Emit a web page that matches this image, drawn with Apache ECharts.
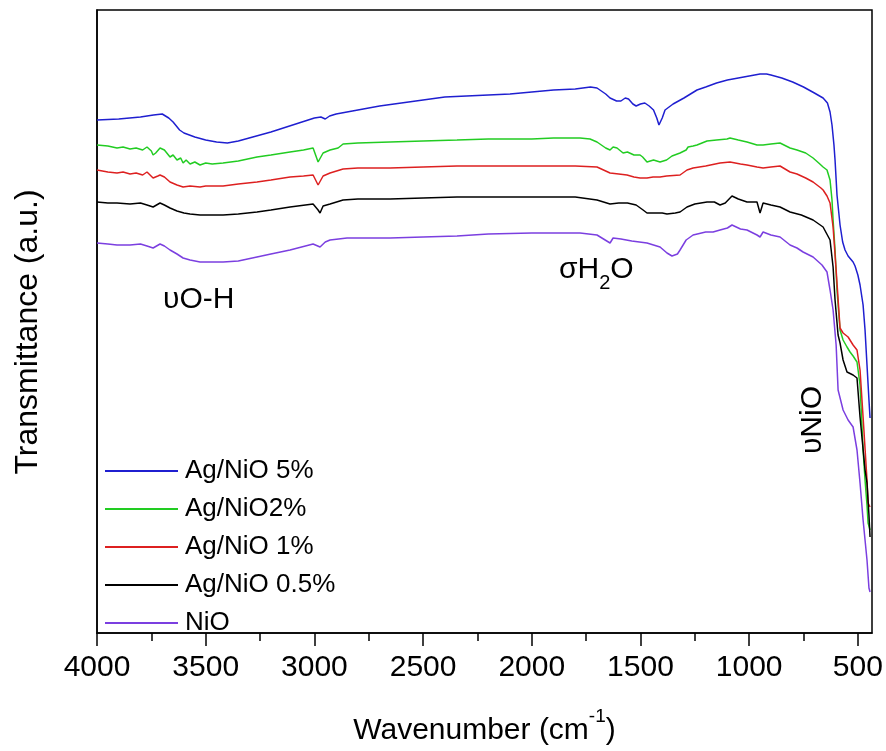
<!DOCTYPE html>
<html>
<head>
<meta charset="utf-8">
<title>FTIR spectra</title>
<script src="https://cdn.jsdelivr.net/npm/echarts@6/dist/echarts.min.js"></script>
<style>
  html, body { margin: 0; padding: 0; background: #fff; }
  #chart { width: 886px; height: 751px; }
</style>
</head>
<body>
<div id="chart"></div>
<script>
// wavenumber (cm-1) / transmittance (a.u.)
var ag5 = [
  [4000,513],[3900,514],[3800,516],[3740,518],[3700,519],[3670,515],[3650,511],[3620,503],[3600,500],
  [3550,496],[3500,493],[3450,491],[3400,490],[3350,492],[3300,495],[3200,501],[3100,508],[3000,515],
  [2970,516],[2950,514],[2930,517],[2900,519],[2800,523],[2700,527],[2600,530],[2500,533],[2400,536],
  [2300,537],[2200,538],[2100,539],[2000,541],[1900,543],[1800,544],[1730,546],[1700,545],[1660,539],
  [1640,535],[1610,532],[1590,532],[1570,535],[1555,534],[1535,529],[1520,527],[1500,529],[1480,530],
  [1460,527],[1440,523],[1425,515],[1415,508],[1400,515],[1387,523],[1350,529],[1300,535],[1240,543],
  [1200,546],[1150,550],[1100,553],[1050,555],[1000,557],[950,559],[920,559],[900,558],[850,555],
  [800,551],[750,546],[700,540],[660,535],[640,530],[628,521],[619,508],[610,488],[605,473],[596,438],
  [582,408],[570,391],[559,383],[545,377],[536,375],[522,371],[513,367],[500,358],[490,348],[476,328],
  [467,303],[458,268],[449,233],[444,215]
]
var ag2 = [
  [4000,488],[3950,487],[3908,485],[3880,486],[3848,484],[3820,485],[3790,483],[3770,486],[3750,482],
  [3742,478],[3730,480],[3710,485],[3690,483],[3664,476],[3650,478],[3632,473],[3615,475],[3604,470],
  [3590,473],[3572,469],[3550,471],[3526,468],[3500,470],[3470,469],[3420,470],[3350,472],[3264,476],
  [3200,478],[3112,481],[3050,483],[3006,485],[2983,471],[2960,480],[2928,483],[2891,485],[2868,489],
  [2800,490],[2652,491],[2500,492],[2344,493],[2200,494],[2100,494],[2000,494],[1900,495],[1778,495],
  [1732,494],[1700,491],[1660,485],[1640,483],[1626,486],[1608,485],[1580,480],[1560,481],[1530,478],
  [1502,478],[1490,476],[1470,471],[1440,473],[1410,471],[1380,473],[1355,477],[1318,480],[1290,483],
  [1281,486],[1258,487],[1240,488],[1194,492],[1150,493],[1102,494],[1088,495],[1050,493],[1010,491],
  [964,488],[936,488],[900,489],[858,490],[812,485],[780,483],[740,480],[706,475],[680,470],[660,466],
  [642,463],[628,453],[619,433],[614,413],[605,383],[596,343],[582,303],[568,293],[550,286],[536,281],
  [522,277],[504,271],[490,248],[476,183],[467,153],[458,128],[453,110],[444,103]
]
var ag1 = [
  [4000,463],[3950,461],[3908,460],[3880,461],[3848,459],[3820,460],[3790,458],[3770,461],[3742,455],
  [3720,457],[3710,458],[3690,456],[3664,451],[3632,448],[3604,446],[3572,447],[3526,446],[3500,447],
  [3420,447],[3350,449],[3264,451],[3200,453],[3112,456],[3050,457],[3006,458],[2983,448],[2960,457],
  [2928,460],[2868,464],[2800,465],[2652,465],[2500,466],[2344,467],[2200,467],[2000,467],[1800,467],
  [1700,466],[1660,462],[1640,460],[1600,459],[1562,458],[1530,456],[1502,455],[1470,455],[1442,456],
  [1410,456],[1380,457],[1318,458],[1286,463],[1258,465],[1200,467],[1134,470],[1088,471],[1040,469],
  [1010,468],[964,466],[936,465],[900,466],[858,467],[812,461],[780,459],[740,455],[706,451],[670,445],
  [660,443],[642,437],[628,430],[614,406],[600,363],[582,305],[568,300],[545,296],[522,288],[504,283],
  [490,263],[476,216],[458,153],[453,130],[444,126]
]
var ag05 = [
  [4000,431],[3950,430],[3908,430],[3848,429],[3800,430],[3770,428],[3742,426],[3710,430],[3690,428],
  [3664,425],[3632,422],[3600,420],[3572,419],[3526,418],[3420,418],[3350,419],[3264,421],[3200,423],
  [3112,426],[3006,429],[2983,423],[2974,420],[2960,427],[2928,429],[2868,433],[2800,434],[2652,434],
  [2500,435],[2344,436],[2200,436],[2000,436],[1800,436],[1700,433],[1640,429],[1600,430],[1560,430],
  [1520,428],[1488,423],[1470,420],[1440,420],[1400,420],[1378,419],[1340,420],[1318,421],[1286,426],
  [1250,429],[1194,431],[1160,431],[1134,428],[1110,430],[1079,437],[1050,434],[1010,431],[964,431],
  [950,420],[936,430],[900,428],[858,426],[812,421],[760,418],[706,413],[660,406],[628,393],[614,366],
  [605,333],[591,298],[582,290],[568,273],[550,261],[522,258],[504,255],[490,216],[467,163],[458,150],
  [449,118],[444,96]
]
var nio = [
  [4000,390],[3950,389],[3908,388],[3848,388],[3800,389],[3770,387],[3742,385],[3710,389],[3690,387],
  [3664,383],[3632,379],[3604,375],[3572,373],[3526,371],[3420,371],[3350,372],[3264,376],[3200,379],
  [3112,383],[3006,389],[2974,386],[2950,391],[2928,393],[2850,395],[2652,395],[2500,396],[2344,397],
  [2200,399],[2000,400],[1778,400],[1700,398],[1640,390],[1626,395],[1590,394],[1540,392],[1470,390],
  [1410,386],[1378,380],[1355,377],[1330,379],[1318,383],[1290,393],[1258,398],[1200,401],[1166,401],
  [1134,403],[1100,405],[1079,408],[1040,404],[1010,403],[964,398],[950,396],[936,401],[900,398],
  [858,396],[812,388],[780,385],[752,381],[706,376],[665,368],[642,361],[628,343],[614,323],[600,288],
  [591,243],[568,223],[545,213],[522,206],[504,183],[490,150],[476,113],[458,73],[449,45],[444,41]
]

var seriesNames = ['Ag/NiO 5%', 'Ag/NiO2%', 'Ag/NiO 1%', 'Ag/NiO 0.5%', 'NiO']
var seriesData = [ag5, ag2, ag1, ag05, nio]
var colors = ['#1f1fd0', '#22cc22', '#dd2020', '#000000', '#7b3fe0']
var majorTicks = [4000, 3500, 3000, 2500, 2000, 1500, 1000, 500]
var minorTicks = [3750, 3250, 2750, 2250, 1750, 1250, 750]

var font = 'Liberation Sans, Arial, sans-serif'

var myChart = echarts.init(document.getElementById('chart'))

var series = seriesNames.map(function (name, i) {
  return {
    name: name,
    type: 'line',
    data: seriesData[i],
    symbol: 'none',
    showSymbol: false,
    lineStyle: { width: 1.5, color: colors[i] },
    itemStyle: { color: colors[i] },
    animation: false
  }
})

var option = {
  animation: false,
  grid: {
    left: 97, right: 14, top: 10, bottom: 118,
    show: true, borderColor: '#000', borderWidth: 1.5
  },
  legend: {
    data: seriesNames,
    orient: 'vertical',
    left: 100,
    top: 453,
    icon: 'rect',
    itemWidth: 73,
    itemHeight: 2,
    itemGap: 12,
    textStyle: { fontSize: 26, lineHeight: 26, color: '#000', fontFamily: font, padding: [0, 0, 0, 2] }
  },
  xAxis: [
    {
      type: 'value',
      inverse: true,
      min: 435,
      max: 4000,
      splitLine: { show: false },
      axisLine: { lineStyle: { color: '#000', width: 1.5 } },
      axisTick: { customValues: majorTicks, length: 13, lineStyle: { color: '#000', width: 1.5 } },
      axisLabel: {
        customValues: majorTicks, margin: 20, fontSize: 30, color: '#000', fontFamily: font,
        formatter: function (v) { return String(v) }
      },
      name: '{a|Wavenumber (cm}{s|-1}{a|)}',
      nameLocation: 'middle',
      nameGap: 74,
      nameTextStyle: {
        rich: {
          a: { fontSize: 30, lineHeight: 48, color: '#000', fontFamily: font, verticalAlign: 'middle' },
          s: { fontSize: 19, lineHeight: 19, color: '#000', fontFamily: font, verticalAlign: 'top' }
        }
      }
    },
    {
      type: 'value',
      inverse: true,
      position: 'bottom',
      min: 435,
      max: 4000,
      splitLine: { show: false },
      axisLine: { show: false },
      axisTick: { customValues: minorTicks, length: 8, lineStyle: { color: '#000', width: 1.5 } },
      axisLabel: { show: false }
    }
  ],
  yAxis: {
    type: 'value',
    min: 0,
    max: 623,
    splitLine: { show: false },
    axisTick: { show: false },
    axisLabel: { show: false },
    axisLine: { show: true, lineStyle: { color: '#000', width: 1.5 } }
  },
  graphic: [
    {
      type: 'text', x: 28, y: 332, rotation: Math.PI / 2,
      style: {
        text: 'Transmittance (a.u.)', fontSize: 32, fill: '#000', fontFamily: font,
        align: 'center', verticalAlign: 'middle'
      }
    },
    {
      type: 'text', left: 163, top: 285,
      style: { text: 'υO-H', fontSize: 30, fill: '#000', fontFamily: font }
    },
    {
      type: 'text', left: 559, top: 255,
      style: {
        text: '{a|σH}{s|2}{a|O}',
        rich: {
          a: { fontSize: 30, lineHeight: 46, fill: '#000', fontFamily: font, verticalAlign: 'middle' },
          s: { fontSize: 20, lineHeight: 20, fill: '#000', fontFamily: font, verticalAlign: 'bottom' }
        }
      }
    },
    {
      type: 'text', x: 813, y: 420, rotation: Math.PI / 2,
      style: {
        text: 'υNiO', fontSize: 30, fill: '#000', fontFamily: font,
        align: 'center', verticalAlign: 'middle'
      }
    }
  ],
  series: series
}

myChart.setOption(option)
window.addEventListener('resize', function () { myChart.resize() })
</script>
</body>
</html>
